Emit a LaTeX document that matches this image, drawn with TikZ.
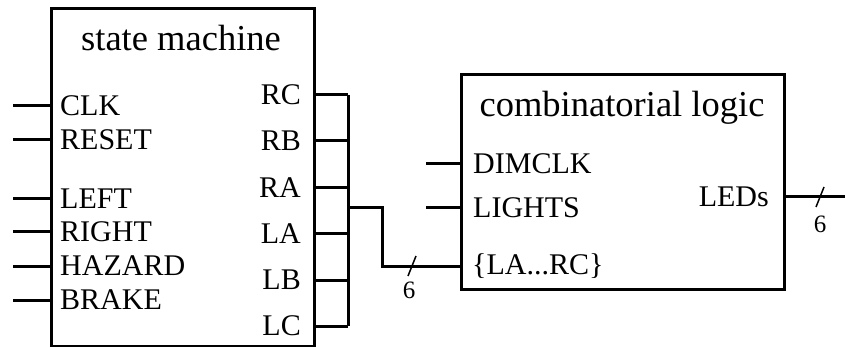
\documentclass[tikz,border=0pt]{standalone}
\usepackage{fontspec}
\setmainfont{Liberation Serif}
\usetikzlibrary{positioning,calc}

\begin{document}
\begin{tikzpicture}[
    x=1pt, y=-1pt,
    block/.style={
        rectangle,
        draw=black,
        line width=3pt,
        anchor=north west,
        inner sep=0pt
    },
    title/.style={
        font=\fontsize{36.5}{40}\selectfont,
        inner sep=0pt
    },
    pinleft/.style={
        font=\fontsize{30}{32}\selectfont,
        anchor=west,
        inner sep=0pt
    },
    pinright/.style={
        font=\fontsize{30}{32}\selectfont,
        anchor=east,
        inner sep=0pt
    },
    wire/.style={
        line width=3pt
    },
    buswidth/.style={
        font=\fontsize{25}{27}\selectfont,
        inner sep=0pt
    }
]
\useasboundingbox (0,0) rectangle (845,347);

% Blocks
\node[block, minimum width=263pt, minimum height=338pt] (sm) at (50,7) {};
\node[title] (smtitle) at (181,38) {state machine};
\node[block, minimum width=323pt, minimum height=215pt] (cl) at (460,73) {};
\node[title] (cltitle) at (622,108) {combinatorial logic};

% State machine inputs
\foreach \name/\y in {CLK/106, RESET/140, LEFT/199, RIGHT/232, HAZARD/266, BRAKE/300} {
    \coordinate (in-\name) at (13,\y);
    \node[pinleft] (lbl-\name) at (60,\y) {\name};
    \draw[wire] (in-\name) -- (in-\name -| sm.west);
}

% State machine outputs onto the bus
\coordinate (bustop) at (348,95);
\coordinate (busbot) at (348,326);
\coordinate (busj) at (348,208);
\foreach \name/\y in {RC/95, RB/141, RA/188, LA/234, LB/280, LC/326} {
    \node[pinright] (lbl-\name) at (301,\y) {\name};
    \draw[wire] (sm.east |- lbl-\name) -- (bustop |- lbl-\name);
}
\draw[wire] (bustop) -- (busbot);

% Combinatorial logic inputs
\node[pinleft] (lbl-DIMCLK) at (473,164) {DIMCLK};
\node[pinleft] (lbl-LIGHTS) at (473,208) {LIGHTS};
\node[pinleft] (lbl-bus) at (472,266) {\{LA...RC\}};
\coordinate (in-DIMCLK) at (426,164);
\coordinate (in-LIGHTS) at (426,208);
\draw[wire] (in-DIMCLK) -- (in-DIMCLK -| cl.west);
\draw[wire] (in-LIGHTS) -- (in-LIGHTS -| cl.west);

% Bus into combinatorial logic
\coordinate (busbend) at (382,208);
\draw[wire] (busj) -- (busbend) |- (lbl-bus -| cl.west);
\coordinate (slash1) at (412,266);
\draw[line width=1.5pt] ($(slash1)+(-4,10)$) -- ($(slash1)+(4,-10)$);
\node[buswidth] (w1) at (409,290) {6};

% Output
\node[pinright] (lbl-LEDs) at (769,197) {LEDs};
\coordinate (out-LEDs) at (845,197);
\draw[wire] (lbl-LEDs -| cl.east) -- (out-LEDs);
\coordinate (slash2) at (820,197);
\draw[line width=1.5pt] ($(slash2)+(-4,10)$) -- ($(slash2)+(4,-10)$);
\node[buswidth] (w2) at (820,224) {6};

\end{tikzpicture}
\end{document}
